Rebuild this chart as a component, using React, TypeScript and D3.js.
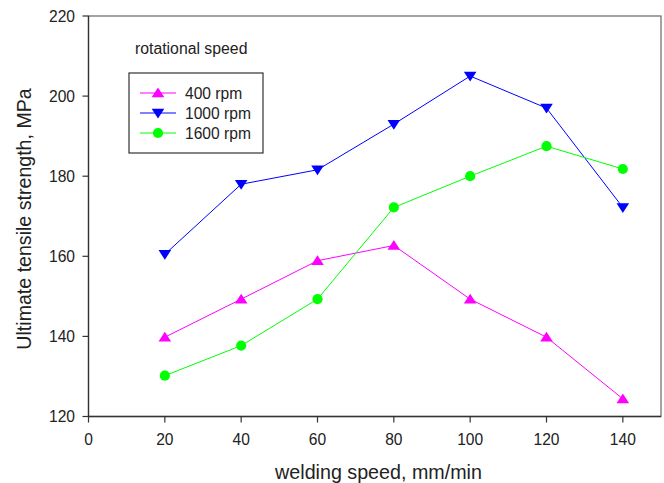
import React from "react";
import * as d3 from "d3";

const speeds = [20, 40, 60, 80, 100, 120, 140];
const rpm400 = [139.8, 149.3, 158.9, 162.7, 149.3, 139.8, 124.4];
const rpm1000 = [160.5, 178, 181.6, 193, 205, 197, 172.2];
const rpm1600 = [130.2, 137.7, 149.3, 172.2, 180, 187.5, 181.8];
const xTicks = [0, 20, 40, 60, 80, 100, 120, 140];
const yTicks = [120, 140, 160, 180, 200, 220];
const seriesNames = ["400 rpm", "1000 rpm", "1600 rpm"];

const W = 664, H = 483;
const L = 88.5, R = 661, T = 16, B = 416.5;
const FONT = "'Liberation Sans', Arial, sans-serif";

type Shape = "up" | "down" | "circle";
const series: { name: string; values: number[]; color: string; shape: Shape }[] = [
  { name: seriesNames[0], values: rpm400, color: "#FF00FF", shape: "up" },
  { name: seriesNames[1], values: rpm1000, color: "#0000FF", shape: "down" },
  { name: seriesNames[2], values: rpm1600, color: "#00FF00", shape: "circle" },
];

function Marker({ x, y, shape, color }: { x: number; y: number; shape: Shape; color: string }) {
  if (shape === "circle") return <circle cx={x} cy={y} r={5.1} fill={color} />;
  const s = 6.3;
  const h = 5;
  if (shape === "up")
    return <path d={`M${x},${y - h * 1.1}L${x + s},${y + h * 0.85}L${x - s},${y + h * 0.85}Z`} fill={color} />;
  return <path d={`M${x},${y + h * 1.1}L${x + s},${y - h * 0.85}L${x - s},${y - h * 0.85}Z`} fill={color} />;
}

export default function App() {
  const x = d3.scaleLinear().domain([0, 150]).range([L, R]);
  const y = d3.scaleLinear().domain([120, 220]).range([B, T]);
  const line = d3
    .line<[number, number]>()
    .x((d) => x(d[0]))
    .y((d) => y(d[1]));

  return (
    <svg width={W} height={H} style={{ position: "absolute", left: 0, top: 0, background: "#fff" }}>
      <rect x={0} y={0} width={W} height={H} fill="#fff" />
      <rect x={L} y={T} width={R - L} height={B - T} fill="none" stroke="#666" strokeWidth={1.2} />
      <line x1={L} y1={T} x2={L} y2={B} stroke="#333" strokeWidth={1.3} />
      <line x1={L} y1={B} x2={R} y2={B} stroke="#333" strokeWidth={1.3} />
      {xTicks.map((t) => (
        <g key={"x" + t}>
          <line x1={x(t)} x2={x(t)} y1={B} y2={B + 6} stroke="#333" strokeWidth={1.2} />
          <text x={x(t)} y={B + 28.5} textAnchor="middle" fontFamily={FONT} fontSize={15.6} fill="#222">
            {t}
          </text>
        </g>
      ))}
      {yTicks.map((t) => (
        <g key={"y" + t}>
          <line x1={L - 6} x2={L} y1={y(t)} y2={y(t)} stroke="#333" strokeWidth={1.2} />
          <text x={L - 13.5} y={y(t) + 5.6} textAnchor="end" fontFamily={FONT} fontSize={15.6} fill="#222">
            {t}
          </text>
        </g>
      ))}
      <text x={378.5} y={479} textAnchor="middle" fontFamily={FONT} fontSize={19.7} fill="#222">
        welding speed, mm/min
      </text>
      <text
        transform={`translate(31,219) rotate(-90)`}
        textAnchor="middle"
        fontFamily={FONT}
        fontSize={19.6}
        fill="#222"
      >
        Ultimate tensile strength, MPa
      </text>
      {series.map((s) => (
        <g key={s.name}>
          <path
            d={line(speeds.map((v, i) => [v, s.values[i]] as [number, number])) || ""}
            fill="none"
            stroke={s.color}
            strokeWidth={1}
          />
          {speeds.map((v, i) => (
            <Marker key={i} x={x(v)} y={y(s.values[i])} shape={s.shape} color={s.color} />
          ))}
        </g>
      ))}
      <text x={135} y={54} fontFamily={FONT} fontSize={15.8} fill="#222">
        rotational speed
      </text>
      <rect x={129} y={73} width={134} height={80} fill="#fff" stroke="#333" strokeWidth={1.2} />
      {series.map((s, i) => {
        const ly = 93 + i * 20;
        return (
          <g key={"lg" + s.name}>
            <line x1={140} x2={176} y1={ly} y2={ly} stroke={s.color} strokeWidth={1} />
            <Marker x={158} y={ly} shape={s.shape} color={s.color} />
            <text x={185} y={ly + 5.6} fontFamily={FONT} fontSize={15.6} fill="#222">
              {s.name}
            </text>
          </g>
        );
      })}
    </svg>
  );
}
